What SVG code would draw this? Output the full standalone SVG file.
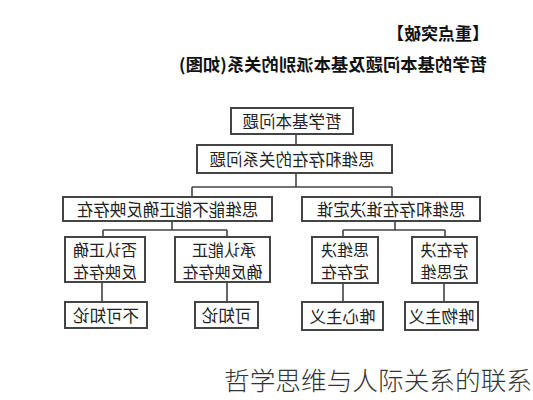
<svg xmlns="http://www.w3.org/2000/svg" width="533" height="400" viewBox="0 0 533 400">
<style>
.bx{fill:#fff;stroke:#444;stroke-width:2}
.ln{stroke:#444;stroke-width:1.6;fill:none}
.t{font-family:"Noto Sans CJK SC","Noto Sans",sans-serif;font-size:16.5px;fill:#222;text-anchor:middle;dominant-baseline:central}
.t2{font-size:16px}
.h{font-family:"Noto Sans CJK SC","Noto Sans",sans-serif;font-weight:bold;fill:#111;text-anchor:middle;dominant-baseline:central}
.cap{font-family:"Noto Sans CJK SC","Noto Sans",sans-serif;font-weight:300;font-size:25.5px;fill:#333}
</style>
<rect width="533" height="400" fill="#fff"/>
<g id="title">
<text class="h" transform="scale(-1,1)" x="-438" y="32" font-size="17">【重点突破】</text>
<text class="h" transform="scale(-1,1)" x="-333" y="63" font-size="17" textLength="308" lengthAdjust="spacingAndGlyphs">哲学的基本问题及基本派别的关系(如图)</text>
</g>
<g id="connectors">
<path class="ln" d="M296 134V145M296 173V187M192 187H392M192 187V197M392 187V197"/>
<path class="ln" d="M172 221V230M103 230H227M103 230V237M227 230V237M102 282V302M227 282V302"/>
<path class="ln" d="M395 221V230M343 230H445M343 230V237M445 230V237M343 283V302M444 283V302"/>
</g>
<g id="n1"><rect class="bx" x="231" y="108" width="122" height="26"/><text class="t" transform="scale(-1,1)" x="-292" y="121">哲学基本问题</text></g>
<g id="n2"><rect class="bx" x="197" y="145" width="195" height="28"/><text class="t" transform="scale(-1,1)" x="-292" y="159">思维和存在的关系问题</text></g>
<g id="n3"><rect class="bx" x="63" y="197" width="209" height="24"/><text class="t" transform="scale(-1,1)" x="-167.5" y="209">思维能不能正确反映存在</text></g>
<g id="n4"><rect class="bx" x="302" y="197" width="178" height="24"/><text class="t" transform="scale(-1,1)" x="-391" y="209">思维和存在谁决定谁</text></g>
<g id="n5"><rect class="bx" x="65" y="237" width="80" height="45"/><text class="t t2" transform="scale(-1,1)" x="-105" y="248.5">否认正确</text><text class="t t2" transform="scale(-1,1)" x="-105" y="270.5">反映存在</text></g>
<g id="n6"><rect class="bx" x="175" y="237" width="95" height="45"/><text class="t t2" transform="scale(-1,1)" x="-224" y="248.5">承认能正</text><text class="t t2" transform="scale(-1,1)" x="-222.5" y="270.5">确反映存在</text></g>
<g id="n7"><rect class="bx" x="65" y="302" width="82" height="26"/><text class="t" transform="scale(-1,1)" x="-106" y="315">不可知论</text></g>
<g id="n8"><rect class="bx" x="195" y="302" width="63" height="26"/><text class="t" transform="scale(-1,1)" x="-226.5" y="315">可知论</text></g>
<g id="n9"><rect class="bx" x="312" y="237" width="66" height="46"/><text class="t t2" transform="scale(-1,1)" x="-345" y="249">思维决</text><text class="t t2" transform="scale(-1,1)" x="-345" y="271">定存在</text></g>
<g id="n10"><rect class="bx" x="412" y="237" width="65" height="46"/><text class="t t2" transform="scale(-1,1)" x="-444.5" y="249">存在决</text><text class="t t2" transform="scale(-1,1)" x="-444.5" y="271">定思维</text></g>
<g id="n11"><rect class="bx" x="302" y="302" width="81" height="28"/><text class="t" transform="scale(-1,1)" x="-342.5" y="316">唯心主义</text></g>
<g id="n12"><rect class="bx" x="405" y="302" width="73" height="28"/><text class="t" transform="scale(-1,1)" x="-441.5" y="316">唯物主义</text></g>
<text class="cap" x="224" y="390" textLength="308" lengthAdjust="spacingAndGlyphs">哲学思维与人际关系的联系</text>
</svg>
